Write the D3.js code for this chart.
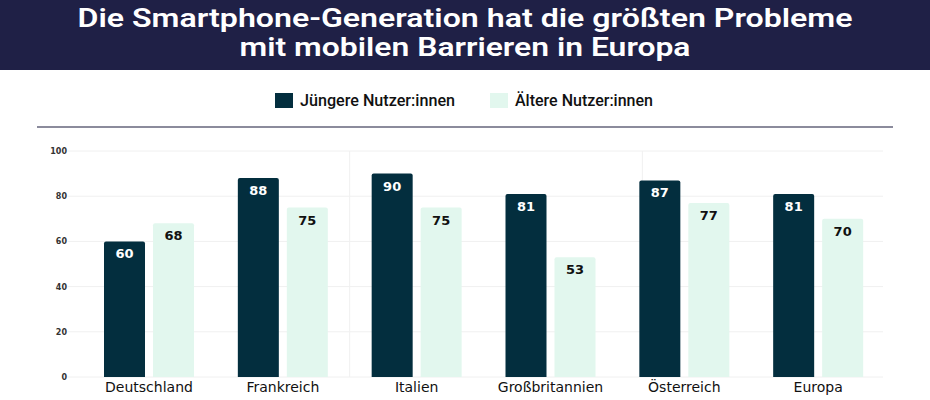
<!DOCTYPE html>
<html>
<head>
<meta charset="utf-8">
<script src="https://cdn.jsdelivr.net/npm/d3@7"></script>
<style>
  body { margin: 0; background: #fff; }
  svg { display: block; }
</style>
</head>
<body>
<div id="chart"></div>
<script>
// chart data
const categories = ["Deutschland", "Frankreich", "Italien", "Großbritannien", "Österreich", "Europa"];
const seriesNames = ["Jüngere Nutzer:innen", "Ältere Nutzer:innen"];
const younger = [60, 88, 90, 81, 87, 81];
const older = [68, 75, 75, 53, 77, 70];
const yTicks = [0, 20, 40, 60, 80, 100];
const titleLines = ["Die Smartphone-Generation hat die größten Probleme", "mit mobilen Barrieren in Europa"];

const width = 930, height = 400;
const margin = { top: 151, right: 45, bottom: 23, left: 82 };
const dark = "#032e3e", light = "#e2f7ee";

const svg = d3.select("#chart").append("svg")
    .attr("width", width)
    .attr("height", height);

// title band
svg.append("rect")
    .attr("width", width).attr("height", 70)
    .attr("fill", "#1f2046");

svg.selectAll(".title")
  .data(titleLines)
  .join("text")
    .attr("x", width / 2)
    .attr("y", (d, i) => 27 + i * 29)
    .attr("text-anchor", "middle")
    .attr("fill", "#fff")
    .style("font", "600 25px Roboto")
    .attr("textLength", (d, i) => i == 0 ? 775 : 451)
    .attr("lengthAdjust", "spacingAndGlyphs")
    .text(d => d);

// legend
const legend = svg.append("g");
const legX = [275, 490], legW = [155, 138];
seriesNames.forEach((name, i) => {
  legend.append("rect")
      .attr("x", legX[i]).attr("y", 93)
      .attr("width", 18).attr("height", 15)
      .attr("fill", i == 0 ? dark : light);
  legend.append("text")
      .attr("x", legX[i] + 25).attr("y", 106)
      .style("font", "500 16px Roboto")
      .attr("fill", "#111")
      .attr("textLength", legW[i])
      .attr("lengthAdjust", "spacingAndGlyphs")
      .text(name);
});

svg.append("line")
    .attr("x1", 37).attr("x2", 893)
    .attr("y1", 127).attr("y2", 127)
    .attr("stroke", "#8b8b9c").attr("stroke-width", 2);

// scales
const x = d3.scaleBand()
    .domain(categories)
    .range([margin.left, width - margin.right]);

const xs = d3.scaleBand()
    .domain(seriesNames)
    .range([22, 112])
    .paddingInner(0.163);

const y = d3.scaleLinear()
    .domain([0, 100])
    .range([height - margin.bottom, margin.top]);

// grid
svg.append("g")
  .selectAll("line")
  .data(yTicks)
  .join("line")
    .attr("x1", 68).attr("x2", 883)
    .attr("y1", d => y(d)).attr("y2", d => y(d))
    .attr("stroke", "#f0f0f0");

svg.append("g")
  .selectAll("line")
  .data([x("Italien"), x("Österreich") + 25])
  .join("line")
    .attr("x1", d => d).attr("x2", d => d)
    .attr("y1", y(100)).attr("y2", y(0))
    .attr("stroke", "#f0f0f0");

// y axis labels
svg.append("g")
  .selectAll("text")
  .data(yTicks)
  .join("text")
    .attr("x", 67)
    .attr("y", d => y(d) + 3)
    .attr("text-anchor", "end")
    .style("font", "bold 8px 'DejaVu Sans'")
    .attr("fill", "#333")
    .text(d => d);

// bars
const rows = categories.map((c, i) => ({ cat: c, values: [younger[i], older[i]] }));

const groups = svg.append("g")
  .selectAll("g")
  .data(rows)
  .join("g")
    .attr("transform", d => `translate(${x(d.cat)},0)`);

groups.selectAll("path")
  .data(d => d.values.map((v, i) => ({ key: seriesNames[i], v, i })))
  .join("path")
    .attr("d", d => {
      const x0 = xs(d.key), w = xs.bandwidth(), y0 = y(d.v), y1 = y(0), r = 2;
      return `M${x0},${y1}V${y0 + r}Q${x0},${y0} ${x0 + r},${y0}H${x0 + w - r}Q${x0 + w},${y0} ${x0 + w},${y0 + r}V${y1}Z`;
    })
    .attr("fill", d => d.i == 0 ? dark : light);

groups.selectAll(".val")
  .data(d => d.values.map((v, i) => ({ key: seriesNames[i], v, i })))
  .join("text")
    .attr("class", "val")
    .attr("x", d => xs(d.key) + xs.bandwidth() / 2)
    .attr("y", d => y(d.v) + 17)
    .attr("text-anchor", "middle")
    .style("font", "bold 13px 'DejaVu Sans'")
    .attr("fill", d => d.i == 0 ? "#fff" : "#111")
    .text(d => d.v);

// x labels
svg.append("g")
  .selectAll("text")
  .data(categories)
  .join("text")
    .attr("x", d => x(d) + 67)
    .attr("y", 392)
    .attr("text-anchor", "middle")
    .style("font", "14px 'DejaVu Sans'")
    .attr("fill", "#111")
    .text(d => d);
</script>
</body>
</html>
